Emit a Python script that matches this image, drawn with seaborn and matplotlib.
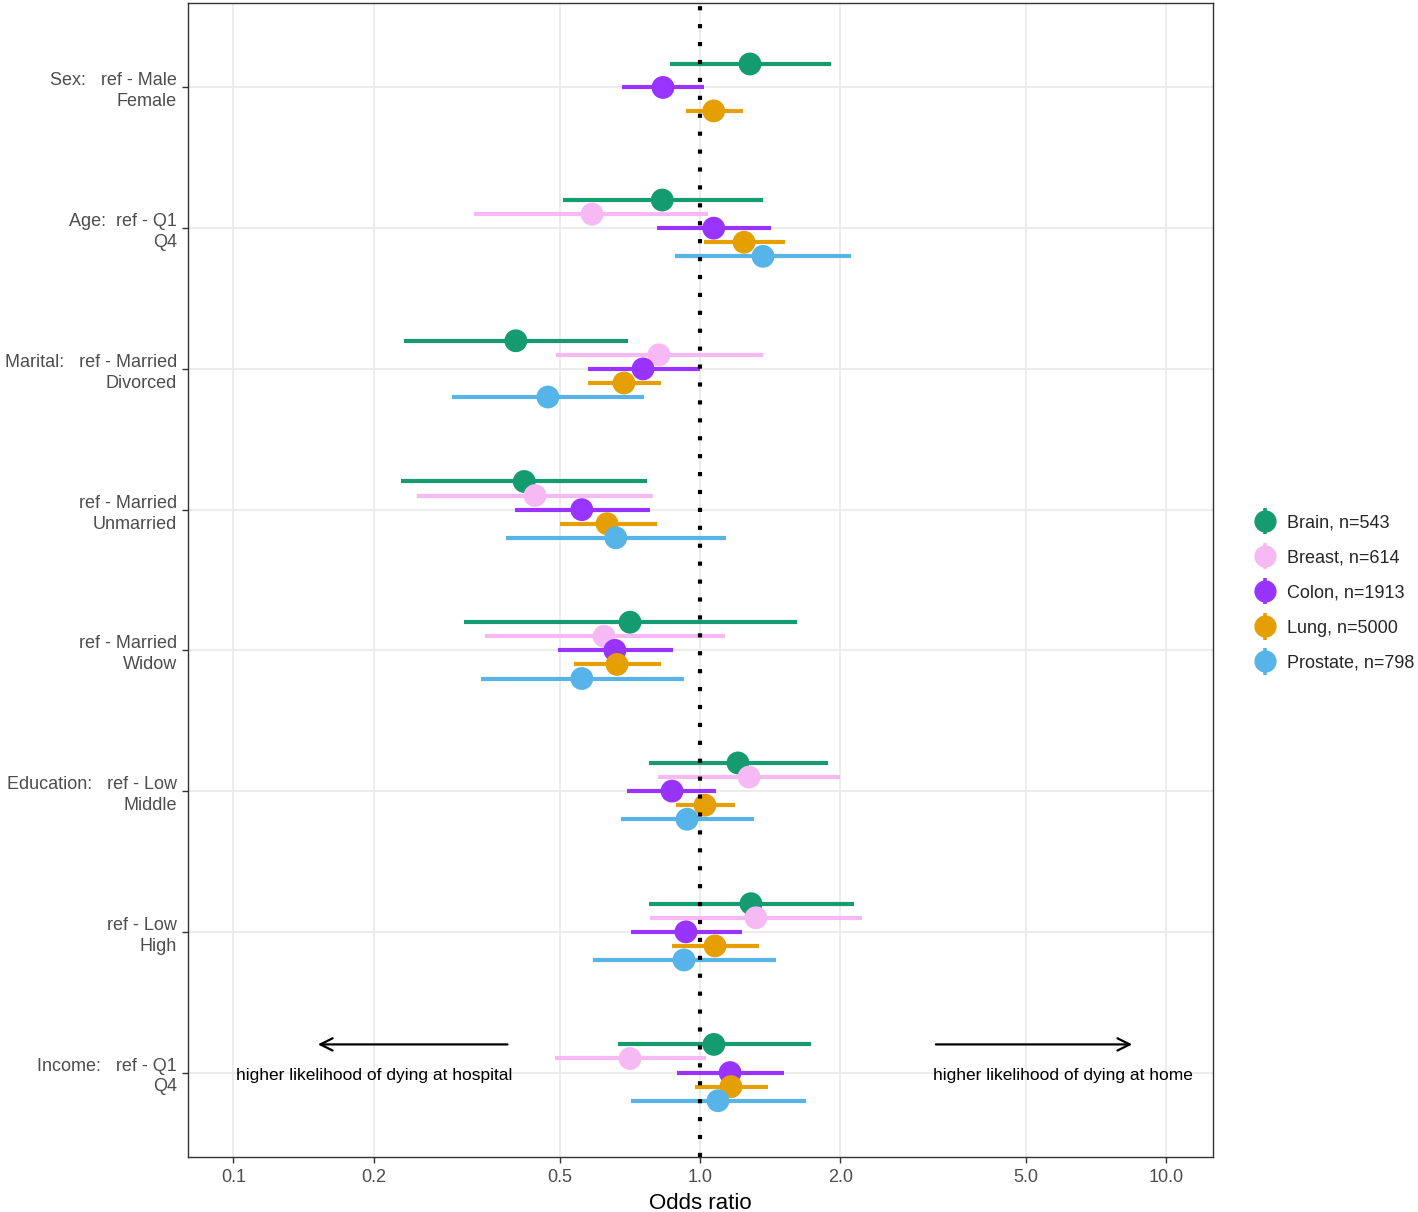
import numpy as np
import pandas as pd
import matplotlib
matplotlib.use("Agg")
import matplotlib.pyplot as plt
import seaborn as sns
from matplotlib.lines import Line2D
from matplotlib.legend_handler import HandlerBase

# ---------------- data ----------------
categories = [
    "Sex:   ref - Male\nFemale",
    "Age:  ref - Q1\nQ4",
    "Marital:   ref - Married\nDivorced",
    "ref - Married\nUnmarried",
    "ref - Married\nWidow",
    "Education:   ref - Low\nMiddle",
    "ref - Low\nHigh",
    "Income:   ref - Q1\nQ4",
]
series = ["Brain, n=543", "Breast, n=614", "Colon, n=1913", "Lung, n=5000", "Prostate, n=798"]
colors = ["#149B70", "#F6B9F3", "#9933FF", "#E69F00", "#56B4E9"]

# odds ratios (NaN = not estimated)
brain_or    = [1.28, 0.83, 0.403, 0.42, 0.708, 1.206, 1.286, 1.071]
brain_lo    = [0.862, 0.508, 0.232, 0.229, 0.312, 0.777, 0.777, 0.667]
brain_hi    = [1.91, 1.365, 0.701, 0.77, 1.614, 1.88, 2.137, 1.73]
breast_or   = [np.nan, 0.587, 0.817, 0.443, 0.623, 1.274, 1.318, 0.708]
breast_lo   = [np.nan, 0.328, 0.491, 0.247, 0.346, 0.813, 0.781, 0.489]
breast_hi   = [np.nan, 1.04, 1.365, 0.793, 1.131, 1.995, 2.223, 1.03]
colon_or    = [0.833, 1.07, 0.755, 0.558, 0.657, 0.871, 0.933, 1.16]
colon_lo    = [0.68, 0.809, 0.575, 0.401, 0.496, 0.697, 0.711, 0.893]
colon_hi    = [1.02, 1.42, 1.0, 0.781, 0.875, 1.082, 1.23, 1.514]
lung_or     = [1.07, 1.243, 0.687, 0.632, 0.664, 1.025, 1.077, 1.165]
lung_lo     = [0.934, 1.02, 0.575, 0.501, 0.537, 0.888, 0.871, 0.976]
lung_hi     = [1.236, 1.52, 0.825, 0.809, 0.825, 1.189, 1.338, 1.399]
prostate_or = [np.nan, 1.365, 0.472, 0.66, 0.558, 0.938, 0.924, 1.093]
prostate_lo = [np.nan, 0.884, 0.294, 0.384, 0.339, 0.677, 0.59, 0.711]
prostate_hi = [np.nan, 2.11, 0.759, 1.137, 0.924, 1.306, 1.455, 1.687]

x_ticks = [0.1, 0.2, 0.5, 1.0, 2.0, 5.0, 10.0]
x_ticklabels = ["0.1", "0.2", "0.5", "1.0", "2.0", "5.0", "10.0"]

ors = [brain_or, breast_or, colon_or, lung_or, prostate_or]
los = [brain_lo, breast_lo, colon_lo, lung_lo, prostate_lo]
his = [brain_hi, breast_hi, colon_hi, lung_hi, prostate_hi]

rows = []
for s, o, l, h in zip(series, ors, los, his):
    for ci, cat in enumerate(categories):
        rows.append(dict(series=s, cat=cat, ci=ci, OR=o[ci], lo=l[ci], hi=h[ci]))
df = pd.DataFrame(rows).dropna()

# dodge like ggplot position_dodge(width=0.5)
dodge_w = 0.5
df["y"] = 0.0
for ci, g in df.groupby("ci"):
    n = len(g)
    step = dodge_w / n
    offs = (np.arange(n) - (n - 1) / 2) * step
    order = [series.index(s) for s in g["series"]]
    idx = g.index[np.argsort(order)]
    df.loc[idx, "y"] = ci + offs

# ---------------- plot ----------------
sns.set_theme(style="white")
plt.rcParams["font.family"] = ["Liberation Sans", "DejaVu Sans"]

fig = plt.figure(figsize=(14.18, 12.12), dpi=100)
ax = fig.add_axes([188 / 1418, 1 - 1157 / 1212, (1213 - 188) / 1418, (1157 - 3) / 1212])

ax.set_xscale("log")
ax.set_xlim(10 ** (-1.0975), 10 ** (1.0997))
ax.set_ylim(len(categories) - 1 + 0.6, -0.6)

# grid
for t in x_ticks:
    ax.axvline(t, color="#EBEBEB", lw=1.3, zorder=0)
for i in range(len(categories)):
    ax.axhline(i, color="#EBEBEB", lw=1.3, zorder=0)

z = 2
for s, c in zip(series, colors):
    d = df[df["series"] == s]
    ax.hlines(d["y"], d["lo"], d["hi"], color=c, lw=3.0, zorder=z)
    sns.scatterplot(data=d, x="OR", y="y", color=c, s=270, edgecolor="none",
                    ax=ax, zorder=z + 0.5, legend=False)
    z += 1

ax.axvline(1.0, color="black", lw=3.0, linestyle=(0, (1, 3.3)), zorder=20)

ax.set_xticks(x_ticks)
ax.set_xticklabels(x_ticklabels)
ax.xaxis.set_minor_locator(matplotlib.ticker.NullLocator())
ax.set_yticks(range(len(categories)))
ax.set_yticklabels(categories, ha="right", multialignment="right", linespacing=1.3)
ax.tick_params(axis="both", which="major", length=4, width=1, color="#333333",
               labelcolor="#4D4D4D", labelsize=13, direction="out", pad=4,
               bottom=True, left=True)
ax.tick_params(axis="x", pad=5)
ax.set_xlabel("Odds ratio", fontsize=16, color="black", labelpad=5)
ax.set_ylabel("")
for sp in ax.spines.values():
    sp.set_color("#333333")
    sp.set_linewidth(1.0)

# annotations
ya = len(categories) - 1 - 0.2
ax.annotate("", xy=(0.1496, ya), xytext=(0.392, ya),
            arrowprops=dict(arrowstyle="->", lw=1.6, color="black", mutation_scale=22))
ax.annotate("", xy=(8.56, ya), xytext=(3.16, ya),
            arrowprops=dict(arrowstyle="->", lw=1.6, color="black", mutation_scale=22))
ax.text(0.2, len(categories) - 1 + 0.02, "higher likelihood of dying at hospital",
        ha="center", va="center", fontsize=12.5, color="black")
ax.text(6.0, len(categories) - 1 + 0.02, "higher likelihood of dying at home",
        ha="center", va="center", fontsize=12.5, color="black")


# legend: point + vertical bar (pointrange key)
class PointRangeHandler(HandlerBase):
    def create_artists(self, legend, orig_handle, xdescent, ydescent, width, height,
                       fontsize, trans):
        c = orig_handle.get_color()
        cx = width / 2 - xdescent
        cy = height / 2 - ydescent
        bar = Line2D([cx, cx], [cy - height * 1.05, cy + height * 1.05], color=c, lw=2.6,
                     solid_capstyle="butt", transform=trans)
        pt = Line2D([cx], [cy], marker="o", markersize=16, color=c, markeredgewidth=0,
                    linestyle="none", transform=trans)
        return [bar, pt]


handles = [Line2D([], [], color=c) for c in colors]
fig.legend(handles, series, handler_map={Line2D: PointRangeHandler()},
           loc="center left", bbox_to_anchor=(1252 / 1418, 1 - 593 / 1212),
           frameon=False, fontsize=13, labelspacing=1.0, handlelength=1.4,
           handletextpad=0.55, borderaxespad=0, borderpad=0)

fig.savefig("out.png", dpi=100)
